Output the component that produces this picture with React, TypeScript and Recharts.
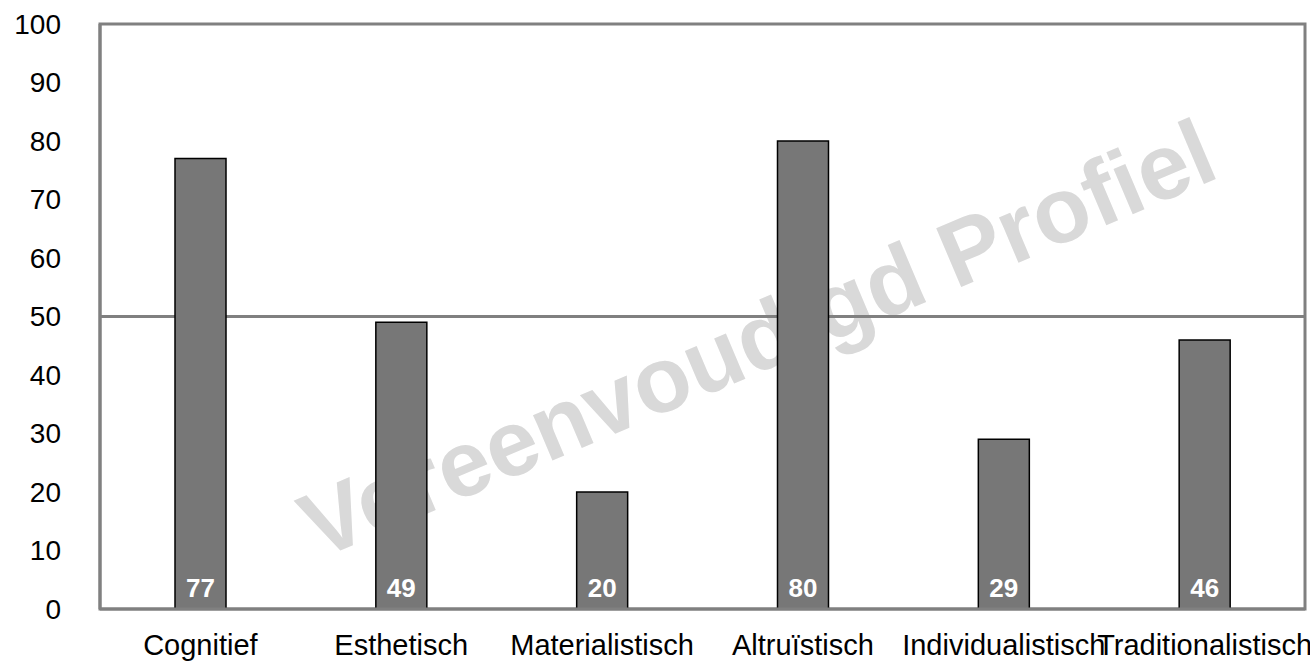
import {
  Bar,
  BarChart,
  CartesianGrid,
  LabelList,
  XAxis,
  YAxis,
  useOffset,
  useChartWidth,
  useChartHeight,
} from "recharts";

const categories = [
  "Cognitief",
  "Esthetisch",
  "Materialistisch",
  "Altruïstisch",
  "Individualistisch",
  "Traditionalistisch",
];
const scores = [77, 49, 20, 80, 29, 46];
const yTicks = [0, 10, 20, 30, 40, 50, 60, 70, 80, 90, 100];

const data = categories.map((name, i) => ({ name, score: scores[i] }));

const FONT = "'Liberation Sans', Arial, sans-serif";
const W = 1310;
const H = 661;
const FRAME = "#808080";

// faint diagonal stamp behind the chart
const Watermark = () => (
  <svg
    width={W}
    height={H}
    style={{ position: "absolute", left: 0, top: 0 }}
  >
    <text
      x={318}
      y={560}
      transform="rotate(-23 318 560)"
      fontFamily={FONT}
      fontWeight={700}
      fontSize={93}
      fill="#d9d9d9"
    >
      Vereenvoudigd Profiel
    </text>
  </svg>
);

// grey box around the plot area
const PlotFrame = () => {
  const offset = useOffset();
  const w = useChartWidth();
  const h = useChartHeight();
  if (!offset || !w || !h) return null;
  return (
    <rect
      x={offset.left}
      y={offset.top}
      width={w - offset.left - offset.right}
      height={h - offset.top - offset.bottom}
      fill="none"
      stroke={FRAME}
      strokeWidth={3}
    />
  );
};

const App = () => {
  return (
    <div
      style={{
        position: "absolute",
        left: 0,
        top: 0,
        width: W,
        height: H,
        overflow: "hidden",
      }}
    >
      <Watermark />
      <div style={{ position: "absolute", left: 0, top: 0 }}>
        <BarChart
          width={W}
          height={H}
          data={data}
          margin={{ top: 24, right: 5, bottom: 0, left: 8 }}
          barCategoryGap={0}
        >
          <CartesianGrid
            vertical={false}
            horizontalValues={[50]}
            stroke={FRAME}
            strokeWidth={3}
          />
          <PlotFrame />
          <XAxis
            dataKey="name"
            interval={0}
            height={52}
            tickLine={false}
            tickSize={0}
            tickMargin={25}
            axisLine={{ stroke: FRAME, strokeWidth: 3 }}
            tick={{ fill: "#000", fontSize: 29, fontFamily: FONT }}
          />
          <YAxis
            width={92}
            domain={[0, 100]}
            ticks={yTicks}
            interval={0}
            tickLine={false}
            tickSize={0}
            tickMargin={39}
            axisLine={{ stroke: FRAME, strokeWidth: 3 }}
            tick={{ fill: "#000", fontSize: 28, fontFamily: FONT }}
          />
          <Bar
            dataKey="score"
            barSize={51}
            fill="#777777"
            stroke="#000"
            strokeWidth={1.5}
            isAnimationActive={false}
          >
            <LabelList
              dataKey="score"
              position="insideBottom"
              offset={12}
              fill="#fff"
              fontSize={26}
              fontWeight={700}
              fontFamily={FONT}
            />
          </Bar>
        </BarChart>
      </div>
    </div>
  );
};

export default App;
